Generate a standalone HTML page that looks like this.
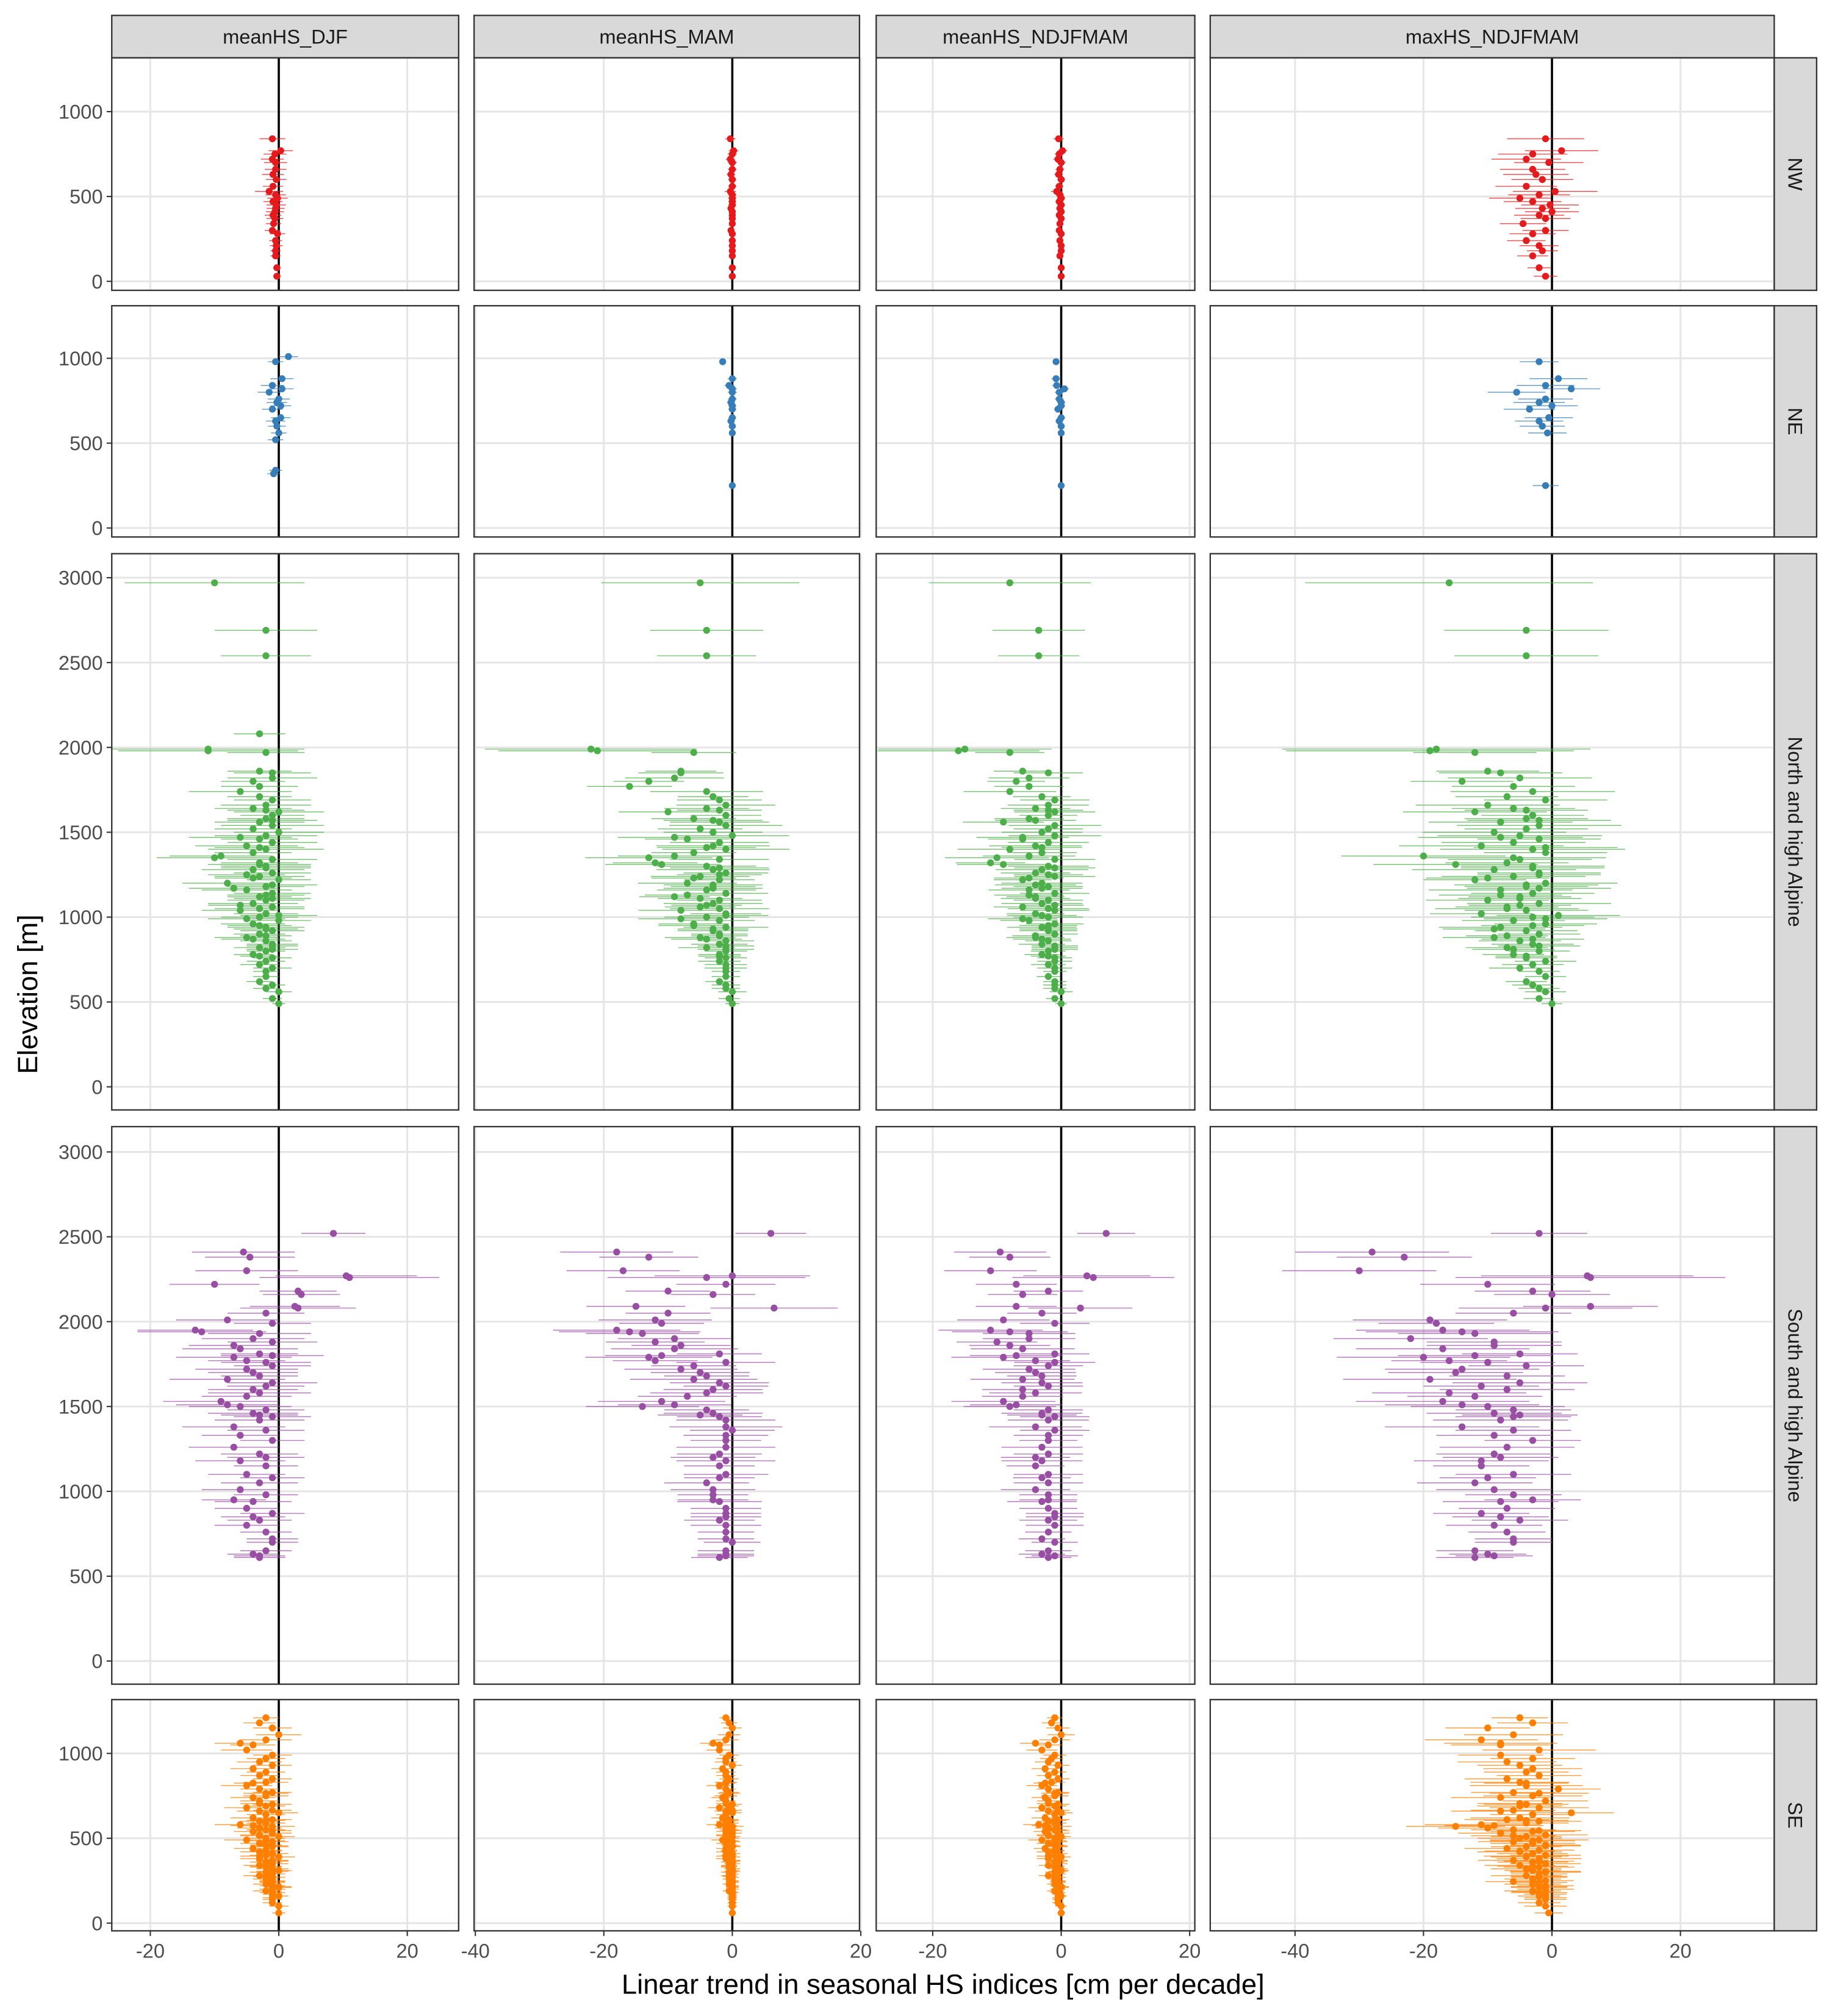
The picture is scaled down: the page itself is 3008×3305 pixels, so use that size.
<!DOCTYPE html>
<html><head><meta charset="utf-8"><style>
html,body{margin:0;padding:0;background:#fff}
svg{display:block}
text{font-family:"Liberation Sans",Arial,sans-serif}
</style></head><body>
<svg id="chart" width="3008" height="3305" viewBox="0 0 1428.3 1569.3" preserveAspectRatio="none" xmlns="http://www.w3.org/2000/svg">
<rect x="0" y="0" width="1428.3" height="1569.3" fill="#fff"/>
<g id="layer"></g>
<text x="734" y="1552" font-size="21.6" text-anchor="middle" fill="#000">Linear trend in seasonal HS indices [cm per decade]</text>
<text transform="translate(29,774) rotate(-90)" font-size="21.5" text-anchor="middle" fill="#000">Elevation [m]</text>
</svg>
<script>
const columnLabels = ["meanHS_DJF","meanHS_MAM","meanHS_NDJFMAM","maxHS_NDJFMAM"];
const rowLabels = ["NW","NE","North and high Alpine","South and high Alpine","SE"];
const colors = ["#E41A1C","#377EB8","#4DAF4A","#984EA3","#FF7F00"];
const xTicks = [[-20,0,20],[-40,-20,0,20],[-20,0,20],[-40,-20,0,20]];
const yTicksShort = [0,500,1000];
const yTicksTall = [0,500,1000,1500,2000,2500,3000];

// ---- NW ----
const elevNW = [30,80,150,180,210,240,280,300,340,370,390,410,430,450,470,490,510,530,560,600,630,660,700,720,750,770,840];
const djfNW = [-0.3,-0.3,-0.5,-0.5,-0.4,-0.5,-0.2,-1,-0.8,-0.6,-0.9,-0.6,-0.5,-0.4,-0.9,-0.2,-0.5,-1.5,-0.9,-0.4,-0.9,-0.5,-0.5,-1,-0.6,0.3,-1];
const mamNW = [0,0,0,0,0,0,0,-0.2,0,0,0,0,-0.2,0,0,0,0,-0.3,0,0,-0.2,0,0,-0.3,0,0.2,-0.3];
const ndNW = [0,0,-0.2,0,0,-0.2,0,-0.3,-0.2,0,-0.3,0,-0.2,0,-0.3,0,-0.2,-0.7,-0.3,0,-0.4,-0.2,0,-0.5,-0.3,0.2,-0.4];
const maxNW = [-1,-2,-3,-1.5,-2,-4,-3,-1,-4.5,-1,-2,0,-1.5,-0.3,-3,-5,-2,0.5,-4,-1.5,-2.5,-3,-0.5,-4,-3,1.5,-1];
const ciNW = [0.6,0.6,0.8,0.8,1,1,1.2,1.2,1.2,1.3,1.3,1.4,1.4,1.5,1.5,1.6,1.6,2.2,1.6,1.6,1.7,1.7,1.8,1.8,1.8,1.9,2];

// ---- NE ----
const elevNE = [250,320,340,520,560,600,630,650,700,720,740,760,800,820,840,880,980,1010];
const djfNE = [null,-0.8,-0.5,-0.5,0,-0.3,-0.5,0.3,-1,0.3,-0.3,0,-1.5,0.5,-1,0.5,-0.5,1.5];
const mamNE = [0,null,null,null,0,0,-0.2,0,0,0,-0.2,0,0,0,-0.5,0,-1.5,null];
const ndNE = [0,null,null,null,0,0,-0.3,0,-0.5,0,0,-0.3,-0.3,0.5,-0.7,-0.8,-0.8,null];
const maxNE = [-1,null,null,null,-0.7,-1.5,-2,-0.5,-3.5,0,-2,-1,-5.5,3,-1,1,-2,null];
const ciNE = [0.8,1,1,1.2,1.2,1.4,1.5,1.5,1.6,1.6,1.6,1.7,1.8,1.8,1.8,1.8,1.2,1.5];

// ---- North and high Alpine ----
const elevN = [2970,2690,2540,2080,1990,1980,1970,1860,1850,1820,1800,1770,1740,1710,1690,1660,1640,1620,1600,1580,1560,1540,1520,1500,1480,1460,1440,1420,1400,1380,1360,1340,1320,1300,1280,1260,1240,1220,1200,1180,1160,1140,1120,1100,1080,1060,1040,1020,1000,980,960,940,920,900,880,860,840,820,800,780,760,740,720,700,680,650,620,600,580,560,520,490,
1630,1570,1470,1410,1350,1290,1230,1170,1110,1050,990,930,870,810,1310,1250,1190,1130,1070,1010,950,890,830,770];
const djfN = [-10,-2,-2,-3,-11,-11,-2,-3,-1,-1,-4,-3,-6,-3,-1,-2,-4,0,-1,-2,-3,-1,-4,0,-2,-3,-1,-5,-2,-4,-9,-1,-3,-2,-4,-1,-3,0,-8,-2,-5,-1,-3,-2,-4,-1,-6,-2,-3,0,-4,-2,-1,-3,-5,-2,-1,-3,-2,-4,-1,-2,-3,-1,-2,-2,-3,-1,-2,0,-1,0,
-2,-1,-6,-3,-10,-2,-4,-7,-1,-3,-5,-2,-4,-1,-3,-5,-1,-2,-6,0,-3,-2,-1,-3];
const mamN = [-5,-4,-4,null,-22,-21,-6,-8,-8,-9,-13,-16,-4,-3,-2,-1,-4,-10,-1,-6,-2,-1,-5,-3,0,-7,-2,-3,-1,-6,-9,-2,-12,-4,-3,-1,-5,-2,-7,-3,-4,-1,-9,-2,-3,-5,-8,-1,-4,-2,-6,-1,-3,-2,-5,-1,-2,-4,-1,-2,-1,-2,-1,-1,-1,-1,-2,-1,-1,0,-0.5,0,
-2,-3,-9,-4,-13,-2,-6,-3,-5,-2,-8,-3,-4,-1,-11,-2,-3,-7,-4,-1,-6,-2,-1,-2];
const ndN = [-8,-3.5,-3.5,null,-15,-16,-8,-6,-2,-5,-7,-5,-8,-3,-1,-2,-4,-1,-2,-5,-9,-1,-2,-3,-1,-6,-2,-4,-8,-3,-5,-1,-11,-2,-3,-4,-1,-6,-3,-2,-5,-1,-4,-2,-3,-6,-1,-4,-2,-5,-1,-3,-2,-1,-4,-2,-3,-1,-2,-3,-1,-1,-2,-1,-1,-2,-1,-1,-1,0,-1,0,
-2,-4,-6,-3,-10,-1,-5,-3,-4,-2,-6,-2,-3,-1,-9,-2,-4,-5,-1,-3,-2,-4,-1,-2];
const maxN = [-16,-4,-4,null,-18,-19,-12,-10,-8,-5,-14,-6,-3,-7,-1,-10,-6,-12,-3,-4,-8,-2,-4,-9,-5,-2,-6,-11,-3,-1,-20,-5,-7,-3,-9,-2,-6,-12,-1,-4,-8,-3,-5,-10,-2,-7,-4,-11,-3,-6,-1,-8,-4,-2,-9,-5,-3,-7,-2,-6,-4,-1,-3,-5,-2,-1,-4,-3,-2,-1,-2,0,
-4,-2,-8,-1,-6,-3,-10,-2,-5,-7,-1,-9,-3,-6,-15,-2,-4,-8,-5,1,-3,-7,-2,-4];
const ciN = [14,8,7,4,15,14,6,5,6,7,5,6,8,5,6,7,6,7,5,6,7,8,6,7,8,6,7,8,9,6,8,7,6,7,8,6,7,5,7,6,7,6,5,6,7,5,6,5,6,5,5,6,5,4,5,4,4,4,3,3,3,3,3,3,2,2,2,2,2,2,1.5,1,
6,7,8,7,9,7,6,7,6,7,6,5,5,4,8,6,7,6,5,6,5,4,4,3];

// ---- South and high Alpine ----
const elevS = [2520,2410,2380,2270,2260,2180,2160,2090,2080,2010,1990,1950,1940,1900,1880,1840,1810,1800,1790,1760,1720,1700,1680,1660,1640,1620,1580,1560,1530,1500,1480,1460,1440,1420,1380,1360,1300,1260,1220,1200,1180,1100,1080,1050,1010,980,940,900,870,830,800,760,700,650,630,620,
2300,2220,2050,1930,1860,1770,1740,1600,1510,1450,1330,1150,950,850,720,610];
const djfS = [8.5,-5.5,-4.5,10.5,11,3,3.5,2.5,3,-8,-1,-13,-12,-4,-1,-6,-3,-1,-7,-2,-5,-4,-3,-8,-1,-2,-3,-5,-9,-6,-2,-4,-1,-3,-7,-2,-1,-7,-3,-2,-6,-5,-1,-3,-6,-2,-4,-5,-1,-3,-5,-2,-1,-2,-4,-3,
-5,-10,-2,-3,-7,-5,-1,-4,-8,-3,-6,-2,-7,-4,-1,-3];
const mamS = [6,-18,-13,0,-4,-10,-3,-15,6.5,-12,-11,-18,-16,-9,-12,-9,-2,-11,-13,-1,-8,-5,-4,-6,-2,-1,-4,-7,-11,-14,-4,-3,-2,-1,-1,0,-1,-1,-2,-3,-1,-1,-2,-4,-3,-3,-2,-1,-1,-2,-1,-1,0,-1,-1,-1,
-17,-1,-10,-14,-8,-12,-6,-3,-9,-5,-1,-2,-3,-1,-1,-2];
const ndS = [7,-9.5,-8,4,5,-2,-6,-7,3,-9,-1,-11,-8,-5,-10,-6,-1,-7,-9,-1,-5,-4,-3,-6,-3,-2,-4,-6,-9,-8,-2,-3,-1,-2,-4,-1,-2,-3,-2,-4,-3,-2,-3,-2,-4,-2,-3,-2,-1,-2,-1,-2,-1,-2,-3,-1,
-11,-7,-3,-5,-8,-4,-2,-6,-7,-3,-2,-4,-2,-1,-3,-2];
const maxS = [-2,-28,-23,5.5,6,-3,0,6,-1,-19,-18,-17,-14,-22,-9,-17,-5,-12,-20,-10,-14,-15,-7,-19,-5,-11,-16,-12,-17,-10,-6,-9,-6,-8,-14,-6,-3,-7,-9,-8,-11,-6,-10,-12,-9,-6,-8,-7,-11,-5,-9,-7,-6,-12,-10,-9,
-30,-10,-6,-12,-9,-16,-4,-7,-14,-5,-9,-11,-3,-8,-6,-12];
const ciS = [5,8,7,11,14,6,6,7,9,8,6,9,10,8,7,9,6,8,9,7,8,7,6,9,7,6,8,7,9,8,6,7,6,7,8,6,5,7,6,6,7,6,5,6,6,5,6,5,5,5,5,4,4,4,4,4,
8,7,6,8,7,6,6,7,8,6,6,5,5,5,4,4];

// ---- SE ----
const elevSE = [1210,1180,1150,1110,1080,1060,1050,1020,990,970,950,930,910,890,870,850,830,810,790,770,750,740,720,700,690,680,660,650,640,620,610,600,590,580,570,560,550,540,530,520,510,500,490,480,470,460,450,440,430,420,410,400,390,380,370,360,350,340,330,320,310,300,290,280,270,260,250,240,230,220,210,200,190,180,170,160,150,140,120,100,60,
605,575,545,515,485,455,425,395,365,335,305,275,245,215,185,665,705,765,825];
const djfSE = [-2,-3,-1,0,-2,-6,-4,-5,-1,-2,-3,-1,-4,-2,-3,-1,-2,-5,-3,-1,-2,-4,-3,-1,-2,-5,-3,0,-2,-4,-1,-3,-2,-6,-1,-3,-2,-4,-1,-3,0,-2,-5,-1,-3,-2,-1,-4,-2,-3,-1,-2,0,-3,-1,-2,-1,-3,-2,-1,0,-2,-1,-3,-1,-2,-1,-1,-2,-1,0,-1,-2,-1,-1,0,-1,-1,-1,0,0,
-2,-4,-1,-3,-2,-1,-2,-3,-1,-2,-1,-2,-1,0,-1,-1,-3,-2,-4];
const mamSE = [-1,-0.5,0,-0.5,-1,-3,-2,-2,-0.5,-1,-1,0,-1.5,-1,-1,-0.5,-1,-2,-1,-0.5,-1,-1.5,-1,0,-0.5,-2,-1,0,-1,-1.5,-0.5,-1,-0.5,-2,0,-1,-0.5,-1,0,-1,0,-0.5,-1.5,0,-1,-0.5,0,-1,-0.5,-1,0,-0.5,0,-1,0,-0.5,0,-0.5,-0.5,0,0,-0.5,0,-0.5,0,-0.5,0,0,-0.5,0,0,0,-0.5,0,0,0,0,0,0,0,0,
-0.5,-1,0,-1,-0.5,0,-0.5,-1,0,-0.5,0,-0.5,0,0,0,0,-1,-0.5,-1];
const ndSE = [-1,-1.5,-0.5,0,-1,-4,-2,-3,-1,-1.5,-2,-0.5,-2.5,-1,-2,-0.5,-1.5,-3,-2,-0.5,-1,-2.5,-2,-0.5,-1,-3,-2,0,-1,-2.5,-0.5,-2,-1,-3.5,-0.5,-2,-1,-2.5,-0.5,-2,0,-1,-3,-0.5,-2,-1,-0.5,-2.5,-1,-2,-0.5,-1,0,-2,-0.5,-1,-0.5,-2,-1,-0.5,0,-1,-0.5,-2,-0.5,-1,-0.5,-0.5,-1,-0.5,0,-0.5,-1,-0.5,-0.5,0,-0.5,-0.5,-0.5,0,0,
-1,-2.5,-0.5,-2,-1,-0.5,-1,-2,-0.5,-1,-0.5,-1,-0.5,0,-0.5,-0.5,-2,-1,-2.5];
const maxSE = [-5,-3,-10,-6,-11,-8,-8,-2,-8,-3,-7,-5,-3,-4,-2,-7,-5,-4,1,-6,-3,-8,-1,-4,-5,-2,-8,3,-3,-5,-7,-2,-4,-11,-15,-10,-6,-3,-8,-1,-4,-5,-2,-6,-3,-1,-4,-7,-2,-5,-3,-1,-4,-2,-6,-3,-1,-5,-2,-4,-3,-1,-2,-4,-2,-3,-1,-2,-3,-1,-2,-1,-3,-2,-1,-2,-1,-1,-2,-1,-0.5,
-4,-9,-2,-6,-3,-1,-5,-4,-2,-3,-1,-2,-6,-2,-3,-6,-5,-2,-4];
const ciSE = [2,2.5,3,3.5,4,4,3.5,4,3,3,3.5,3,3.5,3,3,3,3.5,4,3,3,3.5,3.5,3,3,3,3.5,3.5,3,3,3.5,3,3,3,4,3.5,3.5,3,3,3,3,2.5,3,3.5,2.5,3,2.5,2.5,3,2.5,3,2.5,2.5,2.5,3,2.5,2.5,2.5,2.5,2.5,2.5,2,2.5,2,2.5,2,2,2,2,2,2,2,2,2,2,1.5,1.5,1.5,1.5,1.5,1.5,1,
3,3.5,3,3,3,2.5,2.5,3,2.5,2.5,2.5,2,2,2,1.5,3,3,3.5,3];

const regionElev = [elevNW, elevNE, elevN, elevS, elevSE];
const regionTrends = [
  [djfNW, mamNW, ndNW, maxNW],
  [djfNE, mamNE, ndNE, maxNE],
  [djfN, mamN, ndN, maxN],
  [djfS, mamS, ndS, maxS],
  [djfSE, mamSE, ndSE, maxSE]
];
const regionCI = [ciNW, ciNE, ciN, ciS, ciSE];
const ciScale = [[1,0.4,0.4,3],[1,0.4,0.4,2.5],[1,1.1,0.9,1.6],[1,1.1,0.9,1.5],[1,0.5,0.6,2.2]];

const cols = [{x0:87,x1:357,zero:217},{x0:369,x1:669,zero:570},{x0:682,x1:930,zero:826},{x0:942,x1:1381,zero:1208}];
const rows = [{y0:45,y1:226,base:219,tall:false},{y0:238,y1:418,base:411,tall:false},{y0:431,y1:864,base:846,tall:true},{y0:877,y1:1311,base:1293,tall:true},{y0:1323,y1:1503,base:1497,tall:false}];
const PX_PER_CM = 5;
const PX_PER_M = 0.1321;
const NS = "http://www.w3.org/2000/svg";
const layer = document.getElementById('layer');
function mk(tag, attrs, parent){
  const e = document.createElementNS(NS, tag);
  for (const k in attrs) e.setAttribute(k, attrs[k]);
  (parent||layer).appendChild(e);
  return e;
}
function xScale(c, v){ return cols[c].zero + v*PX_PER_CM; }
function yScale(r, v){ return rows[r].base - v*PX_PER_M; }

cols.forEach((c,ci)=>{
  const s = mk('rect',{x:c.x0,y:12,width:c.x1-c.x0,height:33,fill:'#d9d9d9',stroke:'#333','stroke-width':1.1});
  
  
  const t = mk('text',{x:(c.x0+c.x1)/2,y:34,'font-size':15.5,'text-anchor':'middle',fill:'#1a1a1a'});
  t.textContent = columnLabels[ci];
  
  
});
rows.forEach((r,ri)=>{
  const s = mk('rect',{x:1381,y:r.y0,width:33,height:r.y1-r.y0,fill:'#d9d9d9',stroke:'#333','stroke-width':1.1});
  
  
  const cy=(r.y0+r.y1)/2;
  const t = mk('text',{transform:`translate(1392,${cy}) rotate(90)`,'font-size':15.5,'text-anchor':'middle',fill:'#1a1a1a'});
  t.textContent = rowLabels[ri];
  
  
});

rows.forEach((r,ri)=>{
  const yt = r.tall ? yTicksTall : yTicksShort;
  yt.forEach(v=>{
    const y=yScale(ri,v);
    const tk = mk('line',{x1:83,x2:87,y1:y,y2:y,stroke:'#333','stroke-width':1});
    
    
    const t = mk('text',{x:80,y:y+5.5,'font-size':15.5,'text-anchor':'end',fill:'#4d4d4d'});
    t.textContent = v;
    
    
  });
  cols.forEach((c,ci)=>{
    const g = mk('g',{});
    
    
    const clipId = `clip${ri}_${ci}`;
    const cp = mk('clipPath',{id:clipId},g);
    mk('rect',{x:c.x0,y:r.y0,width:c.x1-c.x0,height:r.y1-r.y0},cp);
    yt.forEach(v=>{
      const y=yScale(ri,v);
      const gl=mk('line',{x1:c.x0,x2:c.x1,y1:y,y2:y,stroke:'#e5e5e5','stroke-width':1.4},g);
      
      
    });
    xTicks[ci].forEach(v=>{
      const x=xScale(ci,v);
      const gl=mk('line',{x1:x,x2:x,y1:r.y0,y2:r.y1,stroke:'#e5e5e5','stroke-width':1.4},g);
      
      
    });
    const zl = mk('line',{x1:xScale(ci,0),x2:xScale(ci,0),y1:r.y0,y2:r.y1,stroke:'#000','stroke-width':1.7},g);
    
    
    const el = regionElev[ri], tr = regionTrends[ri][ci], cis = regionCI[ri], sc = ciScale[ri][ci];
    const dg = mk('g',{'clip-path':`url(#${clipId})`},g);
    const n = Math.min(el.length, tr.length);
    for(let i=0;i<n;i++){
      if(tr[i]===null||tr[i]===undefined) continue;
      const y=yScale(ri,el[i]);
      const h=(cis[i]||2)*sc;
      const eb=mk('line',{x1:xScale(ci,tr[i]-h),x2:xScale(ci,tr[i]+h),y1:y,y2:y,stroke:colors[ri],'stroke-width':0.7,'stroke-opacity':0.75},dg);
      
      
    }
    for(let i=0;i<n;i++){
      if(tr[i]===null||tr[i]===undefined) continue;
      const pt=mk('circle',{cx:xScale(ci,tr[i]),cy:yScale(ri,el[i]),r:2.7,fill:colors[ri]},dg);
      
      
    }
    const b = mk('rect',{x:c.x0,y:r.y0,width:c.x1-c.x0,height:r.y1-r.y0,fill:'none',stroke:'#333','stroke-width':1.1},g);
    
    
  });
});
cols.forEach((c,ci)=>{
  xTicks[ci].forEach(v=>{
    const x=xScale(ci,v);
    const tk=mk('line',{x1:x,x2:x,y1:1503,y2:1507,stroke:'#333','stroke-width':1});
    
    
    const t=mk('text',{x:x,y:1524,'font-size':15.5,'text-anchor':'middle',fill:'#4d4d4d'});
    t.textContent = v;
    
    
  });
});
</script>
</body></html>
